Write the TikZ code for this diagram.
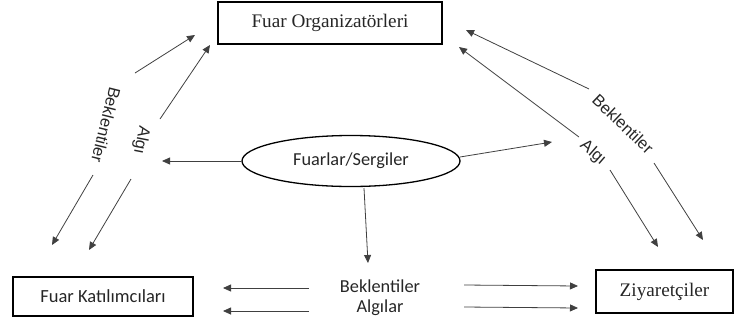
\documentclass[tikz,border=0pt]{standalone}
\usepackage{fontspec}
\setmainfont{Liberation Serif}
\newfontfamily\calibri{Carlito}
\newfontfamily\arial{Liberation Sans}
\usetikzlibrary{shapes.geometric, arrows.meta}

\begin{document}
\begin{tikzpicture}[
			x=1pt, y=-1pt,
			every node/.style={inner sep=0pt, text=black!85},
			box/.style={draw=black, line width=1.4pt, rectangle, font=\fontsize{19.2}{22}\selectfont},
			sbox/.style={box, font=\calibri\fontsize{18.5}{22}\selectfont},
			operation/.style={ellipse, draw=black, line width=1.3pt, minimum width=218pt, minimum height=51pt, font=\calibri\fontsize{18.3}{22}\selectfont},
			label/.style={font=\calibri\fontsize{18.3}{22}\selectfont},
			slabel/.style={font=\arial\fontsize{16.5}{20}\selectfont},
			arrow/.style={-{Triangle[length=8pt, width=7pt]}, draw=black!75, line width=0.8pt}
			]
			\useasboundingbox (0,0) rectangle (734,322);
			
			% Nodes
			\node (org) [box, minimum width=224pt, minimum height=42pt] at (330,23) {Fuar Organizatörleri};
			\node (kat) [sbox, minimum width=180pt, minimum height=39pt] at (103,296.5) {Fuar Katılımcıları};
			\node (ziy) [box, minimum width=137pt, minimum height=43pt] at (664.5,291.5) {Ziyaretçiler};
			\node (fuar) [operation] at (351,161) {Fuarlar/Sergiler};
			\node (bek) [label] at (380,286) {Beklentiler};
			\node (alg) [label] at (380,308) {Algılar};
			\node (lbek) [slabel, rotate=-104] at (106,125) {Beklentiler};
			\node (lalg) [slabel, rotate=-101] at (141,140) {Algı};
			\node (rbek) [slabel, rotate=-43.5] at (623,124) {Beklentiler};
			\node (ralg) [slabel, rotate=-41] at (593,153) {Algı};
			
			% Arrow ends
			\coordinate (l1s) at (135,73);   \coordinate (l1e) at (195,35);
			\coordinate (l2s) at (160,119);  \coordinate (l2e) at (210,45);
			\coordinate (l3s) at (93,175);   \coordinate (l3e) at (52,245);
			\coordinate (l4s) at (131,179);  \coordinate (l4e) at (89,250);
			\coordinate (r1s) at (589,89);   \coordinate (r1e) at (466,30);
			\coordinate (r2s) at (579,137);  \coordinate (r2e) at (459,47);
			\coordinate (r3s) at (654,163);  \coordinate (r3e) at (703,240);
			\coordinate (r4s) at (610,170);  \coordinate (r4e) at (658,247);
			\coordinate (c1e) at (162,161);
			\coordinate (c2s) at (460,157);  \coordinate (c2e) at (552,142);
			\coordinate (c3s) at (364,188);  \coordinate (c3e) at (368,263);
			\coordinate (b1s) at (309,288);  \coordinate (b1e) at (223,288);
			\coordinate (b2s) at (309,311);  \coordinate (b2e) at (223,311);
			\coordinate (b3s) at (464,285);  \coordinate (b3e) at (578,286);
			\coordinate (b4s) at (464,307);  \coordinate (b4e) at (578,308);
			
			% Connections
			\draw [arrow] (l1s) -- (l1e);
			\draw [arrow] (l2s) -- (l2e);
			\draw [arrow] (l3s) -- (l3e);
			\draw [arrow] (l4s) -- (l4e);
			\draw [arrow] (r1s) -- (r1e);
			\draw [arrow] (r2s) -- (r2e);
			\draw [arrow] (r3s) -- (r3e);
			\draw [arrow] (r4s) -- (r4e);
			\draw [arrow] (fuar.west) -- (c1e);
			\draw [arrow] (c2s) -- (c2e);
			\draw [arrow] (c3s) -- (c3e);
			\draw [arrow] (b1s) -- (b1e);
			\draw [arrow] (b2s) -- (b2e);
			\draw [arrow] (b3s) -- (b3e);
			\draw [arrow] (b4s) -- (b4e);
			
		\end{tikzpicture}
\end{document}
